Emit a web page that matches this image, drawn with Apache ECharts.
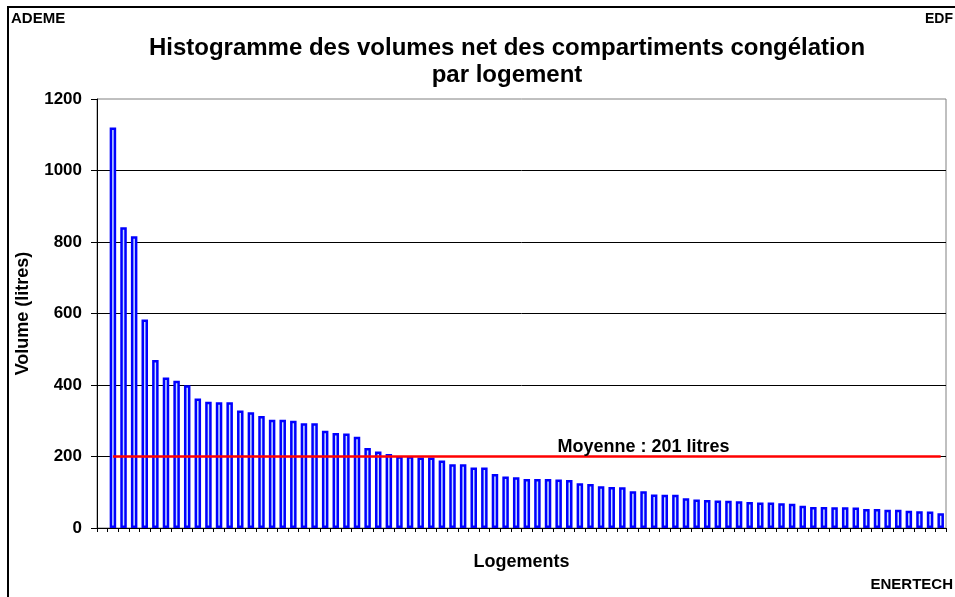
<!DOCTYPE html>
<html>
<head>
<meta charset="utf-8">
<script src="https://cdn.jsdelivr.net/npm/echarts@6/dist/echarts.min.js"></script>
<style>
  html, body { margin: 0; padding: 0; background: #fff; }
  #chart { width: 955px; height: 597px; }
</style>
</head>
<body>
<div id="chart"></div>
<script>
// volumes nets des compartiments congélation, triés (litres); 1ère catégorie vide
const volumes = [
  null,
  1120, 841, 816, 583, 470, 421, 412, 399,
  362, 353, 352, 352, 329, 324, 313, 303, 303, 300,
  293, 293, 272, 266, 264, 255, 224, 214, 207,
  201, 201, 197, 197, 189, 178, 178, 169, 169,
  151, 144, 142, 137, 137, 137, 136, 134, 125, 123,
  117, 115, 114, 103, 103, 94, 93, 93,
  83, 80, 78, 77, 76, 75, 73, 71, 71, 69, 68,
  62, 59, 59, 58, 58, 57, 53, 53, 51, 51, 48, 47, 46, 41
];
const logements = volumes.map((v, i) => String(i + 1));
const moyenne = 201;
const yTicks = { min: 0, max: 1200, interval: 200 };

const FONT = '"Liberation Sans", Arial, sans-serif';

const chart = echarts.init(document.getElementById('chart'), null, { renderer: 'canvas' });

chart.setOption({
  backgroundColor: '#fff',
  animation: false,
  textStyle: { fontFamily: FONT },
  title: {
    text: 'Histogramme des volumes net des compartiments congélation\npar logement',
    left: 502,
    top: 30,
    textAlign: 'center',
    textStyle: { fontFamily: FONT, fontSize: 24, fontWeight: 'bold', color: '#000', lineHeight: 27 }
  },
  graphic: [
    { type: 'rect', shape: { x: 8, y: 7, width: 1200, height: 800 },
      style: { fill: 'none', stroke: '#000', lineWidth: 2 }, silent: true },
    { type: 'text', left: 11, top: 11,
      style: { text: 'ADEME', font: 'bold 15px ' + FONT, fill: '#000' } },
    { type: 'text', right: 2, top: 12,
      style: { text: 'EDF', font: 'bold 14px ' + FONT, fill: '#000' } },
    { type: 'text', right: 2, top: 577,
      style: { text: 'ENERTECH', font: 'bold 15px ' + FONT, fill: '#000' } }
  ],
  grid: {
    left: 97, right: 9, top: 99, bottom: 69,
    show: true, borderColor: '#808080', borderWidth: 1, backgroundColor: 'transparent'
  },
  xAxis: {
    type: 'category',
    data: logements,
    boundaryGap: true,
    name: 'Logements',
    nameLocation: 'middle',
    nameGap: 25,
    nameTextStyle: { fontFamily: FONT, fontSize: 18, fontWeight: 'bold', color: '#000' },
    axisLine: { lineStyle: { color: '#000', width: 1 } },
    axisTick: { show: true, length: 4, interval: 0, lineStyle: { color: '#000' } },
    axisLabel: { show: false },
    splitLine: { show: false }
  },
  yAxis: {
    type: 'value',
    min: yTicks.min,
    max: yTicks.max,
    interval: yTicks.interval,
    name: 'Volume (litres)',
    nameLocation: 'middle',
    nameGap: 65,
    nameTextStyle: { fontFamily: FONT, fontSize: 18, fontWeight: 'bold', color: '#000' },
    axisLine: { show: true, lineStyle: { color: '#000', width: 1 } },
    axisTick: { show: true, length: 6, lineStyle: { color: '#000' } },
    axisLabel: {
      margin: 15, fontFamily: FONT, fontSize: 17, fontWeight: 'bold', color: '#000',
      formatter: (v) => String(v)
    },
    splitLine: { show: true, showMaxLine: false, lineStyle: { color: '#000', width: 1 } }
  },
  series: [
    {
      type: 'bar',
      data: volumes,
      barWidth: 6.5,
      itemStyle: { color: '#c8e0ff', borderColor: '#0000ff', borderWidth: 2.5 },
      markLine: {
        silent: true,
        symbol: 'none',
        label: { show: false },
        lineStyle: { color: '#ff0000', width: 2.5, type: 'solid' },
        data: [[{ coord: [1, moyenne] }, { coord: [volumes.length - 1, moyenne] }]]
      },
      markPoint: {
        silent: true,
        symbol: 'circle',
        symbolSize: 0,
        label: {
          show: true,
          position: 'top',
          distance: 0,
          formatter: 'Moyenne : ' + moyenne + ' litres',
          fontFamily: FONT, fontSize: 18, fontWeight: 'bold', color: '#000'
        },
        data: [{ coord: [51, moyenne] }]
      }
    }
  ]
});
</script>
</body>
</html>
